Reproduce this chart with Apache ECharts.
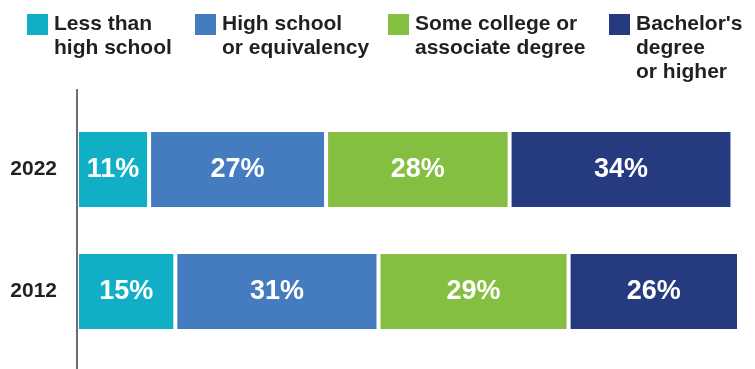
<!DOCTYPE html>
<html>
<head>
<meta charset="utf-8">
<script src="https://cdn.jsdelivr.net/npm/echarts@6/dist/echarts.min.js"></script>
<style>
  html, body { margin: 0; padding: 0; background: #fff; }
  #chart { width: 755px; height: 369px; }
</style>
</head>
<body>
<div id="chart"></div>
<script>
// Educational attainment shares by year (percent)
const years = ['2012', '2022'];
const seriesNames = [
  'Less than\nhigh school',
  'High school\nor equivalency',
  'Some college or\nassociate degree',
  "Bachelor's\ndegree\nor higher"
];
const lessThanHighSchool = [15, 11];
const highSchool = [31, 27];
const someCollege = [29, 28];
const bachelorsOrHigher = [26, 34];

const colors = ['#10afc6', '#447cbf', '#84bf41', '#263a80'];
const FONT = '"Liberation Sans", Arial, Helvetica, sans-serif';
const textDark = '#231f20';

const values = [lessThanHighSchool, highSchool, someCollege, bachelorsOrHigher];

const chart = echarts.init(document.getElementById('chart'));

// Legend text is centred on its swatch; leading blank lines push the
// wrapped label down so its first line sits level with the swatch.
const legendLefts = [25, 193, 386, 607];
const legends = seriesNames.map((name, i) => {
  const lines = name.split('\n').length;
  const blanks = lines - 1;
  const total = lines + blanks;
  const label = '\n'.repeat(blanks) + name;
  return {
    data: [{ name: name }],
    formatter: () => label,
    left: legendLefts[i],
    top: 13 - (total * 12 - 11.5),
    padding: 0,
    itemWidth: 23,
    itemHeight: 23,
    icon: 'rect',
    selectedMode: false,
    textStyle: {
      fontFamily: FONT,
      fontWeight: 'bold',
      fontSize: 21,
      lineHeight: 24,
      color: textDark
    }
  };
});

chart.setOption({
  animation: false,
  color: colors,
  legend: legends,
  grid: { left: 77, right: 16, top: 108.5, height: 244 },
  xAxis: {
    type: 'value',
    min: 0,
    max: 101,
    show: false
  },
  yAxis: {
    type: 'category',
    data: years,
    axisLine: { show: false },
    axisTick: { show: false },
    axisLabel: {
      margin: 20,
      fontFamily: FONT,
      fontWeight: 'bold',
      fontSize: 21,
      color: textDark
    }
  },
  graphic: [{
    type: 'line',
    shape: { x1: 77, y1: 89, x2: 77, y2: 369 },
    style: { stroke: '#6d6e71', lineWidth: 2 },
    z: 10
  }],
  series: seriesNames.map((name, i) => ({
    name: name,
    type: 'bar',
    stack: 'total',
    barWidth: 79,
    data: values[i],
    itemStyle: { borderColor: '#ffffff', borderWidth: 2 },
    label: {
      show: true,
      position: 'inside',
      formatter: '{c}%',
      color: '#ffffff',
      fontFamily: FONT,
      fontWeight: 'bold',
      fontSize: 27
    }
  }))
});
</script>
</body>
</html>
